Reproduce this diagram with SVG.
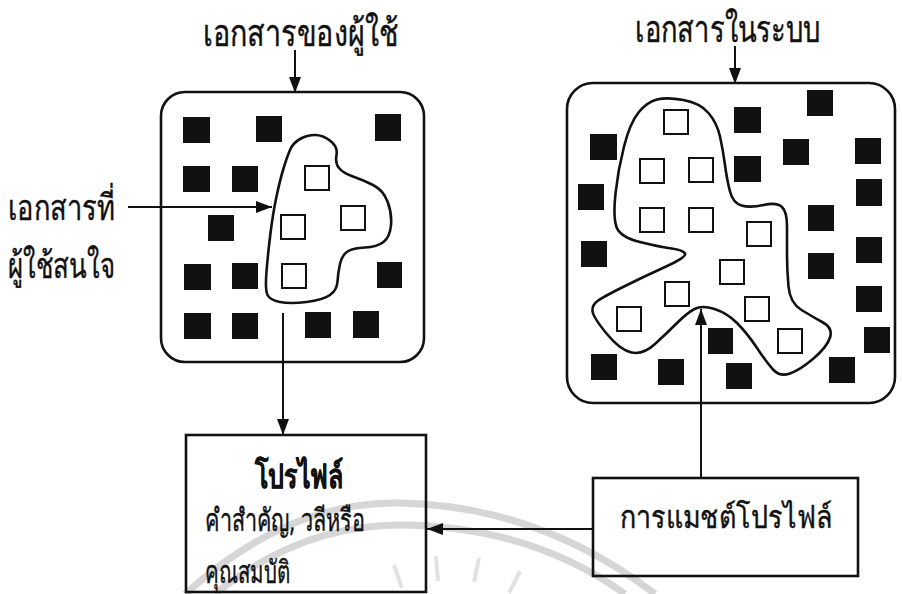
<svg xmlns="http://www.w3.org/2000/svg" width="902" height="594" viewBox="0 0 902 594">
<style>
  .box{fill:none;stroke:#111;stroke-width:2.6}
  .blob{fill:none;stroke:#111;stroke-width:2.6;stroke-linejoin:round}
  .doc{fill:#111}
  .sel{fill:none;stroke:#111;stroke-width:2}
  .conn{fill:none;stroke:#111;stroke-width:2}
  .wm{fill:none;stroke:#d6d6d6;stroke-width:7}
  .wr{fill:none;stroke:#e2e2e2;stroke-width:4}
  .t{font-family:"Noto Sans","DejaVu Sans",sans-serif;fill:#111;stroke:#111;stroke-width:0.4}
  .title{font-size:37px}
  .lab{font-size:36px}
  .head{font-size:34px;font-weight:bold}
  .small{font-size:31px}
</style>
<defs>
  <marker id="ah" viewBox="0 0 16 12" refX="16" refY="6" markerWidth="16" markerHeight="12" orient="auto" markerUnits="userSpaceOnUse">
    <path d="M0,0 L16,6 L0,12 Z" fill="#111"/>
  </marker>
</defs>
<rect width="902" height="594" fill="#fff"/>
<g id="watermark">
  <path class="wm" d="M185,594 Q290,500 400,503 Q540,506 655,594"/>
  <path class="wm" d="M215,594 Q300,525 400,525 Q530,526 625,594"/>
  <path class="wr" d="M402,588 L394,565 M438,581 L436,556 M474,582 L479,558 M509,593 L520,571"/>
</g>
<g id="user-docs">
  <rect class="box" x="161" y="92" width="263" height="270" rx="24"/>
  <g class="doc">
    <rect x="183" y="117" width="27" height="26"/>
    <rect x="256" y="116" width="26" height="26"/>
    <rect x="375" y="114" width="26" height="27"/>
    <rect x="183" y="166" width="27" height="26"/>
    <rect x="232" y="166" width="26" height="26"/>
    <rect x="208" y="215" width="26" height="26"/>
    <rect x="184" y="264" width="27" height="26"/>
    <rect x="232" y="263" width="26" height="26"/>
    <rect x="377" y="262" width="25" height="26"/>
    <rect x="184" y="313" width="27" height="26"/>
    <rect x="232" y="313" width="26" height="26"/>
    <rect x="305" y="312" width="26" height="26"/>
    <rect x="353" y="311" width="26" height="27"/>
  </g>
  <path class="blob" d="M290,150 Q293,143 300,139 Q307,135 315,135 Q323,135 330.5,141 Q338,147 336.5,155 Q335,163 339,168 Q343,173 353,176.5 Q363,180 373,185 Q383,190 387.5,201.5 Q392,213 391,225 Q390,237 383.5,242 Q377,247 365,247.5 Q353,248 347.5,251.5 Q342,255 340,264 Q338,273 337.5,281.5 Q337,290 330,295 Q323,300 306.5,302 Q290,304 280,302 Q270,300 267.5,295 Q265,290 266.5,271.5 Q268,253 270.5,233 Q273,213 276.5,196.5 Q280,180 283.5,168.5 Q287,157 290,150 Z"/>
  <g class="sel">
    <rect x="305" y="166" width="24" height="24"/>
    <rect x="341" y="206" width="24" height="24"/>
    <rect x="281" y="215" width="24" height="24"/>
    <rect x="282" y="264" width="24" height="24"/>
  </g>
</g>
<g id="system-docs">
  <rect class="box" x="567" y="83" width="328" height="320" rx="26"/>
  <g class="doc">
    <rect x="807" y="90" width="26" height="26"/>
    <rect x="734" y="107" width="27" height="26"/>
    <rect x="590" y="134" width="27" height="26"/>
    <rect x="783" y="139" width="26" height="26"/>
    <rect x="855" y="138" width="26" height="26"/>
    <rect x="734" y="156" width="27" height="26"/>
    <rect x="578" y="184" width="26" height="26"/>
    <rect x="856" y="179" width="26" height="27"/>
    <rect x="808" y="205" width="26" height="26"/>
    <rect x="581" y="241" width="26" height="26"/>
    <rect x="856" y="237" width="26" height="26"/>
    <rect x="808" y="253" width="26" height="26"/>
    <rect x="856" y="286" width="26" height="26"/>
    <rect x="708" y="328" width="25" height="26"/>
    <rect x="864" y="327" width="26" height="26"/>
    <rect x="591" y="354" width="26" height="26"/>
    <rect x="658" y="359" width="26" height="26"/>
    <rect x="726" y="363" width="26" height="26"/>
    <rect x="829" y="357" width="26" height="26"/>
  </g>
  <path class="blob" d="M657,99.5 Q667,97 683.5,100 Q700,103 708.5,113 Q717,123 720,136.5 Q723,150 725,165 Q727,180 730,191.5 Q733,203 741.5,205.5 Q750,208 763.5,205 Q777,202 782,207 Q787,212 787,226 Q787,240 787,255 Q787,270 788.5,286.5 Q790,303 801.5,310 Q813,317 823,322.5 Q833,328 830,337.5 Q827,347 813.5,358.5 Q800,370 790,373.5 Q780,377 773.5,370 Q767,363 757,348 Q747,333 737,323 Q727,313 714.5,309 Q702,305 694.5,309 Q687,313 677,323 Q667,333 655,344 Q643,355 631.5,352.5 Q620,350 606.5,333.5 Q593,317 592.5,311 Q592,305 597.5,301 Q603,297 623,287 Q643,277 665,267 Q687,257 685,253.5 Q683,250 671.5,248.5 Q660,247 640,242 Q620,237 616.5,227 Q613,217 615.5,193.5 Q618,170 624,146.5 Q630,123 638.5,112.5 Q647,102 657,99.5 Z"/>
  <g class="sel">
    <rect x="664" y="110" width="24" height="24"/>
    <rect x="640" y="159" width="24" height="24"/>
    <rect x="689" y="158" width="24" height="24"/>
    <rect x="640" y="208" width="24" height="24"/>
    <rect x="689" y="208" width="24" height="24"/>
    <rect x="747" y="222" width="24" height="24"/>
    <rect x="720" y="260" width="24" height="24"/>
    <rect x="665" y="282" width="24" height="24"/>
    <rect x="745" y="297" width="24" height="24"/>
    <rect x="617" y="307" width="24" height="24"/>
    <rect x="778" y="329" width="24" height="24"/>
  </g>
</g>
<g id="profile">
  <rect class="box" x="186" y="435" width="240" height="157"/>
  <text class="t head" x="255" y="488" textLength="88" lengthAdjust="spacingAndGlyphs">โปรไฟล์</text>
  <text class="t small" x="205" y="531" textLength="160" lengthAdjust="spacingAndGlyphs">คำสำคัญ, วลีหรือ</text>
  <text class="t small" x="205" y="583" textLength="85" lengthAdjust="spacingAndGlyphs">คุณสมบัติ</text>
</g>
<g id="matching">
  <rect class="box" x="593" y="478" width="265" height="98"/>
  <text class="t small" x="620" y="528" textLength="212" lengthAdjust="spacingAndGlyphs">การแมชต์โปรไฟล์</text>
</g>
<g id="labels">
  <text class="t title" x="203" y="46" textLength="195" lengthAdjust="spacingAndGlyphs">เอกสารของผู้ใช้</text>
  <text class="t title" x="635" y="42" textLength="185" lengthAdjust="spacingAndGlyphs">เอกสารในระบบ</text>
  <text class="t lab" x="8" y="220" textLength="107" lengthAdjust="spacingAndGlyphs">เอกสารที่</text>
  <text class="t lab" x="8" y="278" textLength="107" lengthAdjust="spacingAndGlyphs">ผู้ใช้สนใจ</text>
</g>
<g id="connectors">
  <line class="conn" x1="295" y1="50" x2="295" y2="93" marker-end="url(#ah)"/>
  <line class="conn" x1="735" y1="46" x2="735" y2="84" marker-end="url(#ah)"/>
  <line class="conn" x1="128" y1="207" x2="272" y2="207" marker-end="url(#ah)"/>
  <line class="conn" x1="283" y1="313" x2="283" y2="435" marker-end="url(#ah)"/>
  <line class="conn" x1="701" y1="478" x2="701" y2="309" marker-end="url(#ah)"/>
  <line class="conn" x1="593" y1="529" x2="427" y2="529" marker-end="url(#ah)"/>
</g>
</svg>
